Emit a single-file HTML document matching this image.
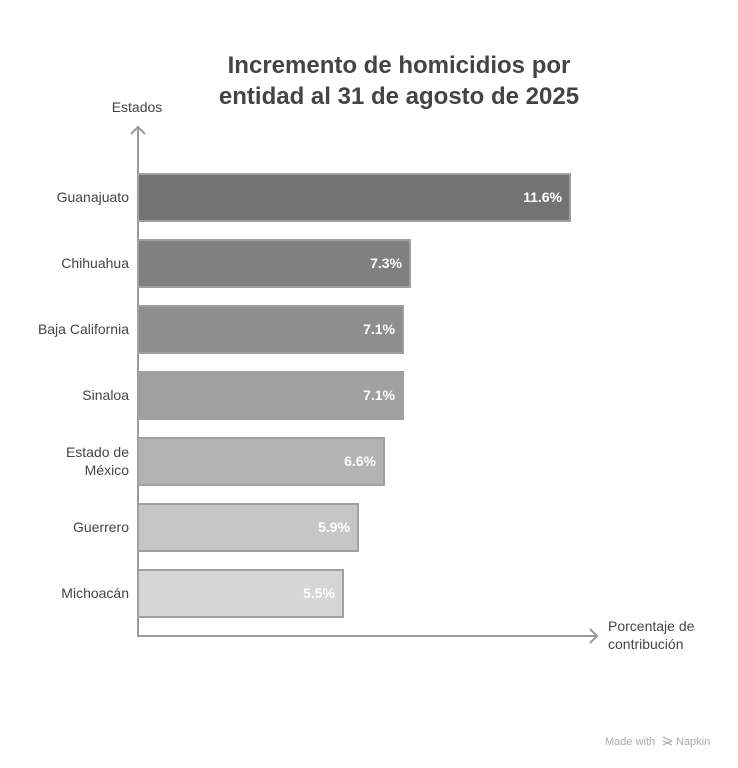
<!DOCTYPE html>
<html><head><meta charset="utf-8"><style>
html,body{margin:0;padding:0;background:#fff;}
svg{display:block;font-family:"Liberation Sans",sans-serif;}
</style></head><body>
<svg width="738" height="768" viewBox="0 0 738 768" xmlns="http://www.w3.org/2000/svg">
<text x="399" y="73" text-anchor="middle" font-size="24" font-weight="bold" fill="#444">Incremento de homicidios por</text>
<text x="399" y="104" text-anchor="middle" font-size="24" font-weight="bold" fill="#444">entidad al 31 de agosto de 2025</text>
<text x="137" y="112" text-anchor="middle" font-size="14" fill="#444">Estados</text>
<g stroke="#9a9a9a" stroke-width="2" fill="none">
<line x1="138" y1="126" x2="138" y2="637"/>
<polyline points="131,134 138,127 145,134"/>
<line x1="137" y1="636" x2="597" y2="636"/>
<polyline points="590,629 597,636 590,643"/>
</g>
<g stroke="#a0a0a0" stroke-width="2">
<rect x="138" y="174" width="432" height="47" fill="#737373"/>
<rect x="138" y="240" width="272" height="47" fill="#808080"/>
<rect x="138" y="306" width="265" height="47" fill="#8e8e8e"/>
<rect x="138" y="372" width="265" height="47" fill="#a0a0a0"/>
<rect x="138" y="438" width="246" height="47" fill="#b3b3b3"/>
<rect x="138" y="504" width="220" height="47" fill="#c6c6c6"/>
<rect x="138" y="570" width="205" height="47" fill="#d6d6d6"/>
</g>
<g font-size="14" font-weight="bold" fill="#fff" text-anchor="end">
<text x="562" y="202">11.6%</text>
<text x="402" y="268">7.3%</text>
<text x="395" y="334">7.1%</text>
<text x="395" y="400">7.1%</text>
<text x="376" y="466">6.6%</text>
<text x="350" y="532">5.9%</text>
<text x="335" y="598">5.5%</text>
</g>
<g font-size="14" fill="#444" text-anchor="end">
<text x="129" y="202">Guanajuato</text>
<text x="129" y="268">Chihuahua</text>
<text x="129" y="334">Baja California</text>
<text x="129" y="400">Sinaloa</text>
<text x="129" y="457">Estado de</text>
<text x="129" y="475">México</text>
<text x="129" y="532">Guerrero</text>
<text x="129" y="598">Michoacán</text>
</g>
<text x="608" y="631" font-size="14" fill="#444">Porcentaje de</text>
<text x="608" y="649" font-size="14" fill="#444">contribución</text>
<text x="605" y="745" font-size="11" fill="#aaa">Made with</text>
<g stroke="#aaa" stroke-width="1.2"><line x1="663" y1="737" x2="672" y2="741"/><line x1="663" y1="741" x2="672" y2="745"/><line x1="663" y1="745" x2="672" y2="741"/></g>
<text x="676" y="745" font-size="11" fill="#aaa">Napkin</text>
</svg>
</body></html>
